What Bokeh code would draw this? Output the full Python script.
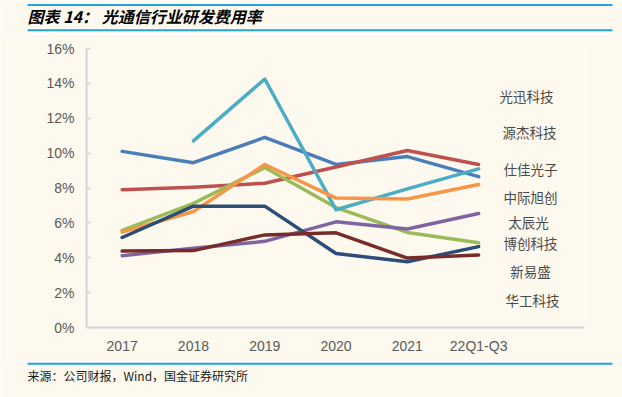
import math
from bokeh.plotting import figure
from bokeh.models import Range1d, FixedTicker, PrintfTickFormatter, Label, ColumnDataSource
from bokeh.embed import file_html
from bokeh.resources import INLINE

NaN = float("nan")

# ---------------- data ----------------
categories = ["2017", "2018", "2019", "2020", "2021", "22Q1-Q3"]
series_names = ["光迅科技", "源杰科技", "仕佳光子", "中际旭创", "太辰光", "博创科技", "新易盛", "华工科技"]
guangxun = [10.1, 9.45, 10.9, 9.35, 9.8, 8.65]
yuanjie = [NaN, 10.7, 14.25, 6.75, 7.95, 9.1]
shijia = [7.9, 8.05, 8.27, 9.2, 10.15, 9.35]
zhongji = [5.47, 6.65, 9.35, 7.42, 7.37, 8.2]
taichenguang = [4.12, 4.55, 4.94, 6.06, 5.65, 6.54]
bochuang = [5.57, 7.12, 9.17, 6.88, 5.45, 4.86]
xinyisheng = [5.16, 6.96, 6.96, 4.24, 3.77, 4.64]
huagong = [4.38, 4.41, 5.31, 5.43, 3.98, 4.16]
y_ticks = [0, 2, 4, 6, 8, 10, 12, 14, 16]

title_text = "图表 14： 光通信行业研发费用率"
source_text = "来源：公司财报，Wind，国金证券研究所"

# ---------------- style ----------------
BG = "#FDF9EF"
RULE = "#22A4E4"
W = 622

series_values = {
    "光迅科技": guangxun, "源杰科技": yuanjie, "仕佳光子": shijia, "中际旭创": zhongji,
    "太辰光": taichenguang, "博创科技": bochuang, "新易盛": xinyisheng, "华工科技": huagong,
}
series_colors = {
    "光迅科技": "#4A7EBB", "源杰科技": "#4BACC6", "仕佳光子": "#C0504D", "中际旭创": "#F79646",
    "太辰光": "#8064A2", "博创科技": "#9BBB59", "新易盛": "#2C4D75", "华工科技": "#772C2A",
}
draw_order = ["光迅科技", "仕佳光子", "博创科技", "太辰光", "源杰科技", "中际旭创", "新易盛", "华工科技"]
# label placement (screen px relative to plot frame: x from left, y from bottom)
label_screen = {
    "光迅科技": (440, 232), "源杰科技": (443, 195.5), "仕佳光子": (444, 159),
    "中际旭创": (444, 130.5), "太辰光": (442, 105.5), "博创科技": (444, 84.5),
    "新易盛": (444, 56.5), "华工科技": (446, 28),
}


def strip(height):
    f = figure(width=W, height=height, output_backend="svg", toolbar_location=None,
               x_range=Range1d(0, W), y_range=Range1d(height, 0),
               min_border=0, x_axis_type=None, y_axis_type=None,
               background_fill_color=BG, border_fill_color=BG, outline_line_color=None)
    f.grid.visible = False
    return f


# ---------------- header ----------------
hdr = strip(34)
hdr.segment(x0=[27, 27], y0=[4.5, 29.7], x1=[612, 612], y1=[4.5, 29.7], line_color=RULE, line_width=2)
hdr.add_layout(Label(x=27, y=15.5, text=title_text, text_font="Noto Sans CJK SC",
                     text_font_size="16px", text_font_style="bold italic", text_color="#000000",
                     text_baseline="middle", text_align="left"))

# ---------------- main plot ----------------
x = list(range(len(categories)))
p = figure(width=W, height=326, output_backend="svg", toolbar_location=None,
           x_range=Range1d(-0.5, 6.485), y_range=Range1d(0, 16),
           min_border_left=86, min_border_right=38, min_border_top=14, min_border_bottom=33,
           background_fill_color=BG, border_fill_color=BG, outline_line_color=None)
p.grid.visible = False

for name in draw_order:
    src = ColumnDataSource(dict(x=x, y=series_values[name]))
    p.line("x", "y", source=src, line_color=series_colors[name], line_width=3.5,
           line_cap="round", line_join="round")

for name in series_names:
    sx, sy = label_screen[name]
    p.add_layout(Label(x=sx, y=sy, x_units="screen", y_units="screen", text=name,
                       text_font="Noto Sans CJK SC", text_font_size="13.5px",
                       text_color="#4A4A4A", text_align="center", text_baseline="middle"))

p.xaxis.ticker = FixedTicker(ticks=x)
p.xaxis.major_label_overrides = {i: c for i, c in zip(x, categories)}
p.xaxis.major_tick_in = 0
p.xaxis.major_tick_out = 0
p.xaxis.minor_tick_line_color = None
p.xaxis.major_label_standoff = 10

p.yaxis.ticker = FixedTicker(ticks=y_ticks)
p.yaxis.formatter = PrintfTickFormatter(format="%d%%")
p.yaxis.major_tick_in = 4
p.yaxis.major_tick_out = 0
p.yaxis.minor_tick_line_color = None
p.yaxis.major_label_standoff = 12

for ax in (p.xaxis, p.yaxis):
    ax.axis_line_color = "#D4D4D4"
    ax.axis_line_width = 2
    ax.major_tick_line_color = "#D4D4D4"
    ax.major_tick_line_width = 1.5
    ax.major_label_text_font = "Liberation Sans"
    ax.major_label_text_font_size = "14px"
    ax.major_label_text_color = "#595959"

# ---------------- footer ----------------
ftr = strip(37)
ftr.segment(x0=[27], y0=[3.3], x1=[612], y1=[3.3], line_color=RULE, line_width=2)
ftr.add_layout(Label(x=27, y=15, text=source_text, text_font="Noto Sans CJK SC",
                     text_font_size="12px", text_color="#1A1A1A",
                     text_baseline="middle", text_align="left"))

open("out.html", "w").write(file_html([hdr, p, ftr], INLINE))
